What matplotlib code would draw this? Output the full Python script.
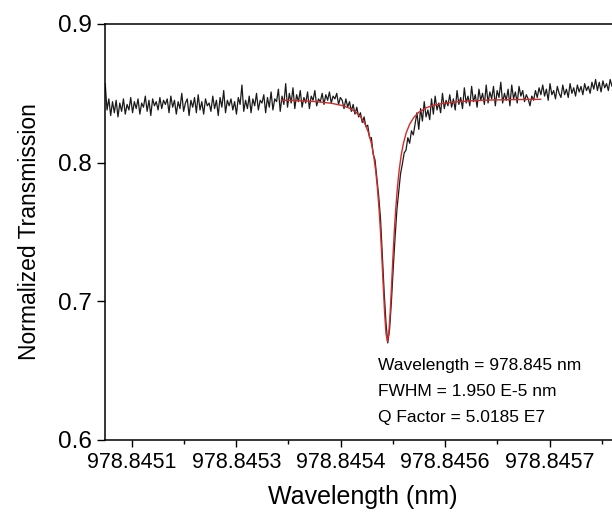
import numpy as np
from matplotlib import pylab as plt

plt.rcParams['font.family'] = ['Liberation Sans', 'DejaVu Sans']

# measured transmission, evenly sampled between these two wavelengths (nm)
data_start = 978.845062
data_end = 978.845792
trans = [
    0.857, 0.838, 0.846, 0.834, 0.844, 0.836, 0.845, 0.833, 0.843, 0.837,
    0.846, 0.835, 0.842, 0.838, 0.847, 0.836, 0.844, 0.839, 0.846, 0.835,
    0.843, 0.840, 0.848, 0.837, 0.845, 0.834, 0.846, 0.841, 0.844, 0.838,
    0.847, 0.839, 0.845, 0.842, 0.846, 0.836, 0.848, 0.840, 0.845, 0.835,
    0.844, 0.839, 0.850, 0.837, 0.843, 0.846, 0.834, 0.845, 0.840, 0.847,
    0.836, 0.849, 0.838, 0.844, 0.835, 0.846, 0.841, 0.843, 0.837, 0.848,
    0.839, 0.845, 0.834, 0.847, 0.840, 0.852, 0.836, 0.845, 0.841, 0.846,
    0.838, 0.844, 0.835, 0.847, 0.842, 0.856, 0.837, 0.845, 0.839, 0.848,
    0.836, 0.846, 0.841, 0.850, 0.838, 0.845, 0.843, 0.849, 0.836, 0.847,
    0.840, 0.851, 0.838, 0.846, 0.844, 0.853, 0.837, 0.848, 0.842, 0.857,
    0.840, 0.850, 0.843, 0.854, 0.839, 0.849, 0.844, 0.852, 0.840, 0.847,
    0.843, 0.851, 0.839, 0.848, 0.845, 0.852, 0.841, 0.846, 0.844, 0.850,
    0.842, 0.849, 0.845, 0.851, 0.843, 0.848, 0.846, 0.850, 0.842, 0.847,
    0.845, 0.839, 0.846, 0.840, 0.844, 0.837, 0.842, 0.835, 0.840, 0.833,
    0.836, 0.829, 0.833, 0.826, 0.827, 0.818, 0.818, 0.806, 0.802, 0.789,
    0.776, 0.760, 0.733, 0.707, 0.685, 0.670, 0.680, 0.700, 0.724, 0.746,
    0.766, 0.779, 0.792, 0.799, 0.807, 0.809, 0.818, 0.814, 0.823, 0.820,
    0.828, 0.836, 0.824, 0.839, 0.830, 0.844, 0.833, 0.838, 0.831, 0.846,
    0.835, 0.848, 0.838, 0.843, 0.836, 0.850, 0.839, 0.845, 0.841, 0.849,
    0.840, 0.846, 0.838, 0.852, 0.842, 0.847, 0.839, 0.854, 0.843, 0.848,
    0.841, 0.855, 0.844, 0.849, 0.840, 0.853, 0.845, 0.850, 0.842, 0.856,
    0.843, 0.851, 0.846, 0.855, 0.841, 0.852, 0.847, 0.858, 0.843, 0.850,
    0.845, 0.853, 0.841, 0.856, 0.846, 0.851, 0.843, 0.855, 0.848, 0.852,
    0.844, 0.849, 0.846, 0.841, 0.848, 0.845, 0.852, 0.847, 0.854, 0.849,
    0.856, 0.848, 0.853, 0.845, 0.857, 0.849, 0.852, 0.846, 0.855, 0.850,
    0.847, 0.856, 0.849, 0.853, 0.847, 0.857, 0.850, 0.854, 0.848, 0.856,
    0.851, 0.855, 0.849, 0.857, 0.852, 0.855, 0.850, 0.858, 0.853, 0.860,
    0.852, 0.858, 0.851, 0.859, 0.854, 0.857, 0.852, 0.860, 0.855, 0.858,
]

# lorentzian fit, offsets from the resonance in fm (1e-6 nm)
fit_center = 978.845467
fit_offset_fm = [-152, -120, -100, -80, -65, -55, -45, -38, -32, -27, -23, -20,
                 -17, -14.5, -12, -10, -8, -6, -4, -2, 0, 2, 4, 6, 8, 10, 12,
                 14.5, 17, 20, 23, 27, 32, 38, 45, 55, 65, 80, 100, 120, 150,
                 185, 220]
fit_trans = [0.8451, 0.8446, 0.8439, 0.8428, 0.8412, 0.8394, 0.8363, 0.8327,
             0.8278, 0.8215, 0.8139, 0.806, 0.795, 0.7828, 0.7668, 0.751,
             0.7323, 0.7117, 0.6918, 0.6767, 0.671, 0.6767, 0.6918, 0.7117,
             0.7323, 0.751, 0.7668, 0.7828, 0.795, 0.806, 0.8139, 0.8215,
             0.8278, 0.8327, 0.8363, 0.8394, 0.8412, 0.8428, 0.8439, 0.8446,
             0.8452, 0.8455, 0.8457]

xtick_pos = [978.84510, 978.84525, 978.84540, 978.84555, 978.84570]
xtick_labels = ['978.8451', '978.8453', '978.8454', '978.8456', '978.8457']
ytick_pos = [0.6, 0.7, 0.8, 0.9]
ytick_labels = ['0.6', '0.7', '0.8', '0.9']
info_lines = ['Wavelength = 978.845 nm', 'FWHM = 1.950 E-5 nm', 'Q Factor = 5.0185 E7']

wl = np.linspace(data_start, data_end, len(trans))
fit_wl = fit_center + np.array(fit_offset_fm) * 1e-6

fig = plt.figure(figsize=(6.12, 5.15), dpi=100)
ax = fig.add_axes([105 / 612, 75 / 515, 516 / 612, 416 / 515])

ax.plot(wl, trans, color='#1a1a1a', lw=0.9)
ax.plot(fit_wl, fit_trans, color='#d42a2a', lw=1.0)

ax.set_xticks(xtick_pos, xtick_labels)
ax.set_xticks([p + 0.000075 for p in xtick_pos], minor=True)
ax.set_yticks(ytick_pos, ytick_labels)
ax.set_xlim(978.8450617, 978.8458023)
ax.set_ylim(0.6, 0.9)
ax.tick_params(axis='x', which='major', labelsize=15.5, length=5, width=1, pad=4)
ax.tick_params(axis='x', which='minor', length=3, width=1)
ax.tick_params(axis='y', labelsize=17.5, length=5.5, width=1, pad=4)
for s in ax.spines.values():
    s.set_linewidth(1.1)

ax.set_xlabel('Wavelength (nm)', fontsize=18, labelpad=8)
ax.set_ylabel('Normalized Transmission', fontsize=16.5, labelpad=12)

for k, line in enumerate(info_lines):
    ax.text(0.529, 0.168 - 0.062 * k, line, transform=ax.transAxes,
            fontsize=12.5, va='baseline', ha='left')

plt.savefig('out.png', dpi=100)
